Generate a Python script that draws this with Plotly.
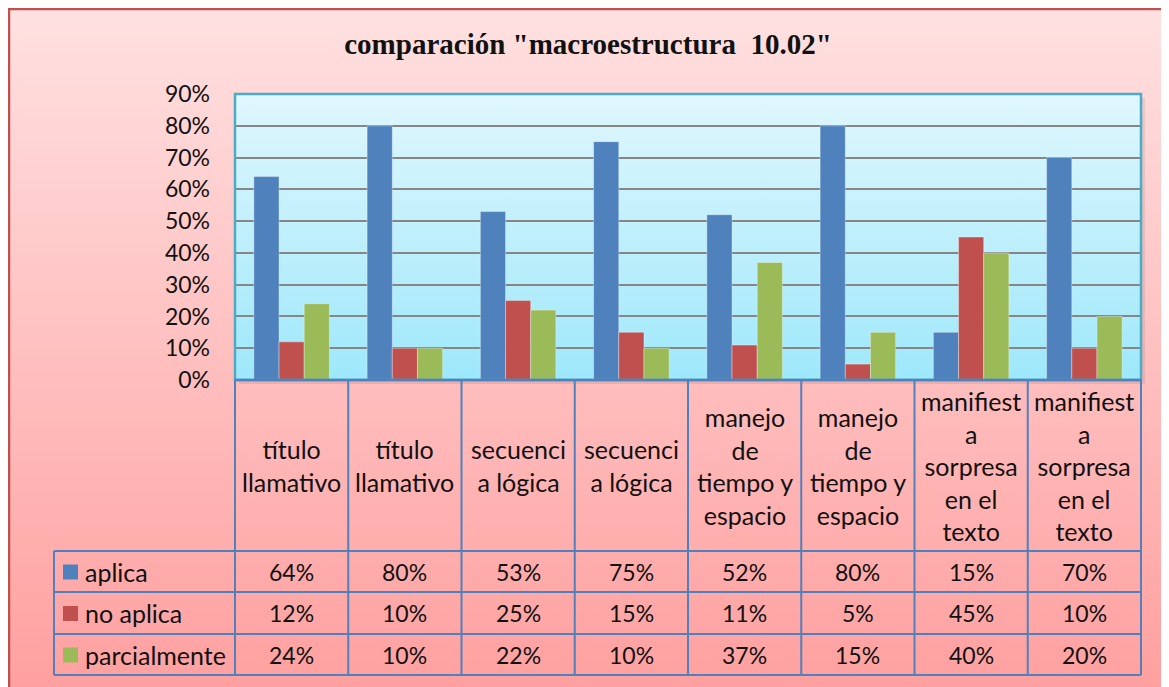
import base64
import plotly.graph_objects as go

# ---------------- data ----------------
categories = ["título llamativo", "título llamativo", "secuencia lógica", "secuencia lógica",
              "manejo de tiempo y espacio", "manejo de tiempo y espacio",
              "manifiesta sorpresa en el texto", "manifiesta sorpresa en el texto"]
category_labels = ["título<br>llamativo", "título<br>llamativo", "secuenci<br>a lógica", "secuenci<br>a lógica",
                   "manejo<br>de<br>tiempo y<br>espacio", "manejo<br>de<br>tiempo y<br>espacio",
                   "manifiest<br>a<br>sorpresa<br>en el<br>texto", "manifiest<br>a<br>sorpresa<br>en el<br>texto"]
series_names = ["aplica", "no aplica", "parcialmente"]
aplica = [64, 80, 53, 75, 52, 80, 15, 70]
no_aplica = [12, 10, 25, 15, 11, 5, 45, 10]
parcialmente = [24, 10, 22, 10, 37, 15, 40, 20]
series_values = [aplica, no_aplica, parcialmente]
series_colors = ["#4f81bd", "#c0504d", "#9bbb59"]
title_text = "comparación \"macroestructura\u00a0 10.02\""

# ---------------- layout geometry (screen pixels; page body has an 8px margin) ----------------
OFF = 8
W, H = 1169 - OFF, 687 - OFF
L, R, T, B = 235 - OFF, 1141 - OFF, 94 - OFF, 380 - OFF
TABLE_LEFT = 54 - OFF
ROW_LINES = [551 - OFF, 592 - OFF, 634 - OFF, 675 - OFF]
CAT_ROW_MID = (B + ROW_LINES[0]) / 2
LINE_COLOR = "#4f81bd"
FONT = "Lato"
TXT = "#111111"


def px_x(p):
    return (p - L) / (R - L)


def px_y(p):
    return (B - p) / (B - T)


def grad_uri(top, bottom):
    svg = ('<svg xmlns="http://www.w3.org/2000/svg" width="10" height="100" viewBox="0 0 10 100" '
           'preserveAspectRatio="none"><defs><linearGradient id="g" x1="0" y1="0" x2="0" y2="1">'
           f'<stop offset="0" stop-color="{top}"/><stop offset="1" stop-color="{bottom}"/>'
           '</linearGradient></defs><rect width="10" height="100" fill="url(#g)"/></svg>')
    return "data:image/svg+xml;base64," + base64.b64encode(svg.encode()).decode()


fig = go.Figure()
for name, vals, col in zip(series_names, series_values, series_colors):
    fig.add_trace(go.Bar(
        x=list(range(len(categories))), y=[v / 100 for v in vals], name=name,
        marker=dict(color=col, line=dict(color="rgba(255,255,255,0.35)", width=1)),
        showlegend=False, hoverinfo="skip"))

shapes = []
# outer frame
shapes.append(dict(type="rect", xref="paper", yref="paper", x0=px_x(1), x1=px_x(W + 30),
                   y0=px_y(H + 30), y1=px_y(1), line=dict(color="#c0504d", width=2.5), layer="below"))
# plot area shadow + border
shapes.append(dict(type="rect", xref="paper", yref="paper", x0=px_x(L + 4), x1=px_x(R + 4),
                   y0=px_y(B + 4), y1=px_y(T + 4), line=dict(width=0), fillcolor="rgba(0,0,0,0.08)", layer="below"))
shapes.append(dict(type="rect", xref="x domain", yref="y domain", x0=0, x1=1, y0=0, y1=1,
                   line=dict(color="#4bacc6", width=2.5), layer="above"))
# table: top border (plot bottom)
shapes.append(dict(type="line", xref="paper", yref="paper", x0=0, x1=1, y0=0, y1=0,
                   line=dict(color=LINE_COLOR, width=2.5), layer="above"))
# table: horizontal row lines
for yl in ROW_LINES:
    shapes.append(dict(type="line", xref="paper", yref="paper", x0=px_x(TABLE_LEFT), x1=1,
                       y0=px_y(yl), y1=px_y(yl), line=dict(color=LINE_COLOR, width=2), layer="above"))
# table: left border of legend column
shapes.append(dict(type="line", xref="paper", yref="paper", x0=px_x(TABLE_LEFT), x1=px_x(TABLE_LEFT),
                   y0=px_y(ROW_LINES[0]), y1=px_y(ROW_LINES[-1]), line=dict(color=LINE_COLOR, width=2),
                   layer="above"))
# table: vertical lines at category boundaries
for xe in (0, 1):
    shapes.append(dict(type="line", xref="paper", yref="paper", x0=xe, x1=xe, y0=0, y1=px_y(ROW_LINES[-1]),
                       line=dict(color=LINE_COLOR, width=2), layer="above"))
for k in range(1, len(categories)):
    shapes.append(dict(type="line", xref="x", yref="paper", x0=k - 0.5, x1=k - 0.5, y0=0,
                       y1=px_y(ROW_LINES[-1]), line=dict(color=LINE_COLOR, width=2), layer="above"))

annotations = []
for i, lab in enumerate(category_labels):
    annotations.append(dict(xref="x", yref="paper", x=i, y=px_y(CAT_ROW_MID), text=lab, showarrow=False,
                            xanchor="center", yanchor="middle", align="center",
                            font=dict(family=FONT, size=25, color=TXT)))
row_mids = [(ROW_LINES[j] + ROW_LINES[j + 1]) / 2 for j in range(3)]
for j, (name, vals, col) in enumerate(zip(series_names, series_values, series_colors)):
    ym = row_mids[j]
    for i, v in enumerate(vals):
        annotations.append(dict(xref="x", yref="paper", x=i, y=px_y(ym), text=f"{v}%", showarrow=False,
                                xanchor="center", yanchor="middle",
                                font=dict(family=FONT, size=23, color=TXT)))
    annotations.append(dict(xref="paper", yref="paper", x=px_x(83 - OFF), y=px_y(ym), text=name,
                            showarrow=False, xanchor="left", yanchor="middle",
                            font=dict(family=FONT, size=25, color=TXT)))
    shapes.append(dict(type="rect", xref="paper", yref="paper", x0=px_x(63 - OFF), x1=px_x(78 - OFF),
                       y0=px_y(ym + 8), y1=px_y(ym - 7), fillcolor=col, line=dict(width=0), layer="above"))

images = [
    dict(source=grad_uri("#ffe1e1", "#ffa0a0"), xref="paper", yref="paper", x=px_x(0), y=px_y(0),
         sizex=px_x(W) - px_x(0), sizey=px_y(0) - px_y(H), xanchor="left", yanchor="top",
         sizing="stretch", layer="below"),
    dict(source=grad_uri("#e0f7fd", "#9ee8fb"), xref="x domain", yref="y domain", x=0, y=1,
         sizex=1, sizey=1, xanchor="left", yanchor="top", sizing="stretch", layer="below"),
]

fig.update_layout(
    width=W, height=H,
    margin=dict(l=L, r=W - R, t=T, b=H - B, pad=0),
    paper_bgcolor="white", plot_bgcolor="rgba(0,0,0,0)",
    barmode="group", bargap=0.333, bargroupgap=0,
    title=dict(text=f"<b>{title_text}</b>", xref="container", yref="container", x=(588 - OFF) / W,
               y=1 - (44 - OFF) / H, xanchor="center", yanchor="middle",
               font=dict(family="Liberation Serif", size=29, color=TXT)),
    xaxis=dict(range=[-0.5, len(categories) - 0.5], showticklabels=False, showgrid=False,
               zeroline=False, showline=False, ticks=""),
    yaxis=dict(range=[0, 0.9], dtick=0.1, tick0=0, tickformat=".0%", showgrid=True,
               gridcolor="#868686", gridwidth=2, zeroline=False, showline=False, ticks="",
               ticklabelstandoff=24, tickfont=dict(family=FONT, size=23, color=TXT)),
    shapes=shapes, annotations=annotations, images=images,
)

fig.write_html("out.html")
